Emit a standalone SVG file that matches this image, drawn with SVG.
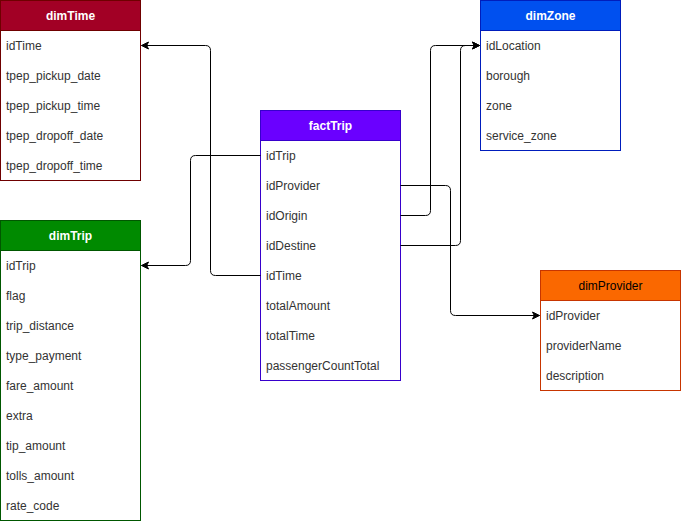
<svg xmlns="http://www.w3.org/2000/svg" width="681" height="521" viewBox="0 0 681 521">
  <defs>
    <marker id="arrow" markerUnits="userSpaceOnUse" markerWidth="10" markerHeight="10" refX="8" refY="5" orient="auto">
      <path d="M1,1.5 L8,5 L1,8.5 L2.8,5 Z" fill="#000" stroke="#000" stroke-width="1"/>
    </marker>
  </defs>
  <style>
    text { font-family: "Liberation Sans", Arial, Helvetica, sans-serif; font-size: 12px; }
    .row { fill: #333333; }
    .head { font-weight: bold; fill: #ffffff; text-anchor: middle; }
    .body { fill: #ffffff; }
    .edge { fill: none; stroke: #000000; stroke-width: 1; marker-end: url(#arrow); }
  </style>
  <rect width="681" height="521" fill="#ffffff"/>

  <!-- dimTime -->
  <g id="dimTime">
    <rect x="0.5" y="0.5" width="140" height="180" class="body" stroke="#6F0000"/>
    <rect x="0.5" y="0.5" width="140" height="30" fill="#A20025" stroke="#6F0000"/>
    <text x="70.5" y="19.5" class="head">dimTime</text>
    <text x="6" y="49.5" class="row">idTime</text>
    <text x="6" y="79.5" class="row">tpep_pickup_date</text>
    <text x="6" y="109.5" class="row">tpep_pickup_time</text>
    <text x="6" y="139.5" class="row">tpep_dropoff_date</text>
    <text x="6" y="169.5" class="row">tpep_dropoff_time</text>
  </g>

  <!-- dimZone -->
  <g id="dimZone">
    <rect x="480.5" y="0.5" width="140" height="150" class="body" stroke="#001DBC"/>
    <rect x="480.5" y="0.5" width="140" height="30" fill="#0050EF" stroke="#001DBC"/>
    <text x="550.5" y="19.5" class="head">dimZone</text>
    <text x="486" y="49.5" class="row">idLocation</text>
    <text x="486" y="79.5" class="row">borough</text>
    <text x="486" y="109.5" class="row">zone</text>
    <text x="486" y="139.5" class="row">service_zone</text>
  </g>

  <!-- factTrip -->
  <g id="factTrip">
    <rect x="260.5" y="110.5" width="140" height="270" class="body" stroke="#3700CC"/>
    <rect x="260.5" y="110.5" width="140" height="30" fill="#6A00FF" stroke="#3700CC"/>
    <text x="330.5" y="129.5" class="head">factTrip</text>
    <text x="266" y="159.5" class="row">idTrip</text>
    <text x="266" y="189.5" class="row">idProvider</text>
    <text x="266" y="219.5" class="row">idOrigin</text>
    <text x="266" y="249.5" class="row">idDestine</text>
    <text x="266" y="279.5" class="row">idTime</text>
    <text x="266" y="309.5" class="row">totalAmount</text>
    <text x="266" y="339.5" class="row">totalTime</text>
    <text x="266" y="369.5" class="row">passengerCountTotal</text>
  </g>

  <!-- dimTrip -->
  <g id="dimTrip">
    <rect x="0.5" y="220.5" width="140" height="300" class="body" stroke="#005700"/>
    <rect x="0.5" y="220.5" width="140" height="30" fill="#008A00" stroke="#005700"/>
    <text x="70.5" y="239.5" class="head">dimTrip</text>
    <text x="6" y="269.5" class="row">idTrip</text>
    <text x="6" y="299.5" class="row">flag</text>
    <text x="6" y="329.5" class="row">trip_distance</text>
    <text x="6" y="359.5" class="row">type_payment</text>
    <text x="6" y="389.5" class="row">fare_amount</text>
    <text x="6" y="419.5" class="row">extra</text>
    <text x="6" y="449.5" class="row">tip_amount</text>
    <text x="6" y="479.5" class="row">tolls_amount</text>
    <text x="6" y="509.5" class="row">rate_code</text>
  </g>

  <!-- dimProvider -->
  <g id="dimProvider">
    <rect x="540.5" y="270.5" width="140" height="120" class="body" stroke="#C73500"/>
    <rect x="540.5" y="270.5" width="140" height="30" fill="#FA6800" stroke="#C73500"/>
    <text x="610.5" y="289.5" text-anchor="middle" fill="#000000">dimProvider</text>
    <text x="546" y="319.5" class="row">idProvider</text>
    <text x="546" y="349.5" class="row">providerName</text>
    <text x="546" y="379.5" class="row">description</text>
  </g>

  <!-- connectors -->
  <g id="connectors">
    <path class="edge" d="M260.5,155.5 H195.5 Q190.5,155.5 190.5,160.5 V260.5 Q190.5,265.5 185.5,265.5 H141.5"/>
    <path class="edge" d="M260.5,275.5 H215.5 Q210.5,275.5 210.5,270.5 V50.5 Q210.5,45.5 205.5,45.5 H141.5"/>
    <path class="edge" d="M400.5,185.5 H445.5 Q450.5,185.5 450.5,190.5 V310.5 Q450.5,315.5 455.5,315.5 H539.5"/>
    <path class="edge" d="M400.5,215.5 H425.5 Q430.5,215.5 430.5,210.5 V50.5 Q430.5,45.5 435.5,45.5 H479.5"/>
    <path class="edge" d="M400.5,245.5 H455.5 Q460.5,245.5 460.5,240.5 V50.5 Q460.5,45.5 465.5,45.5 H479.5"/>
  </g>
</svg>
